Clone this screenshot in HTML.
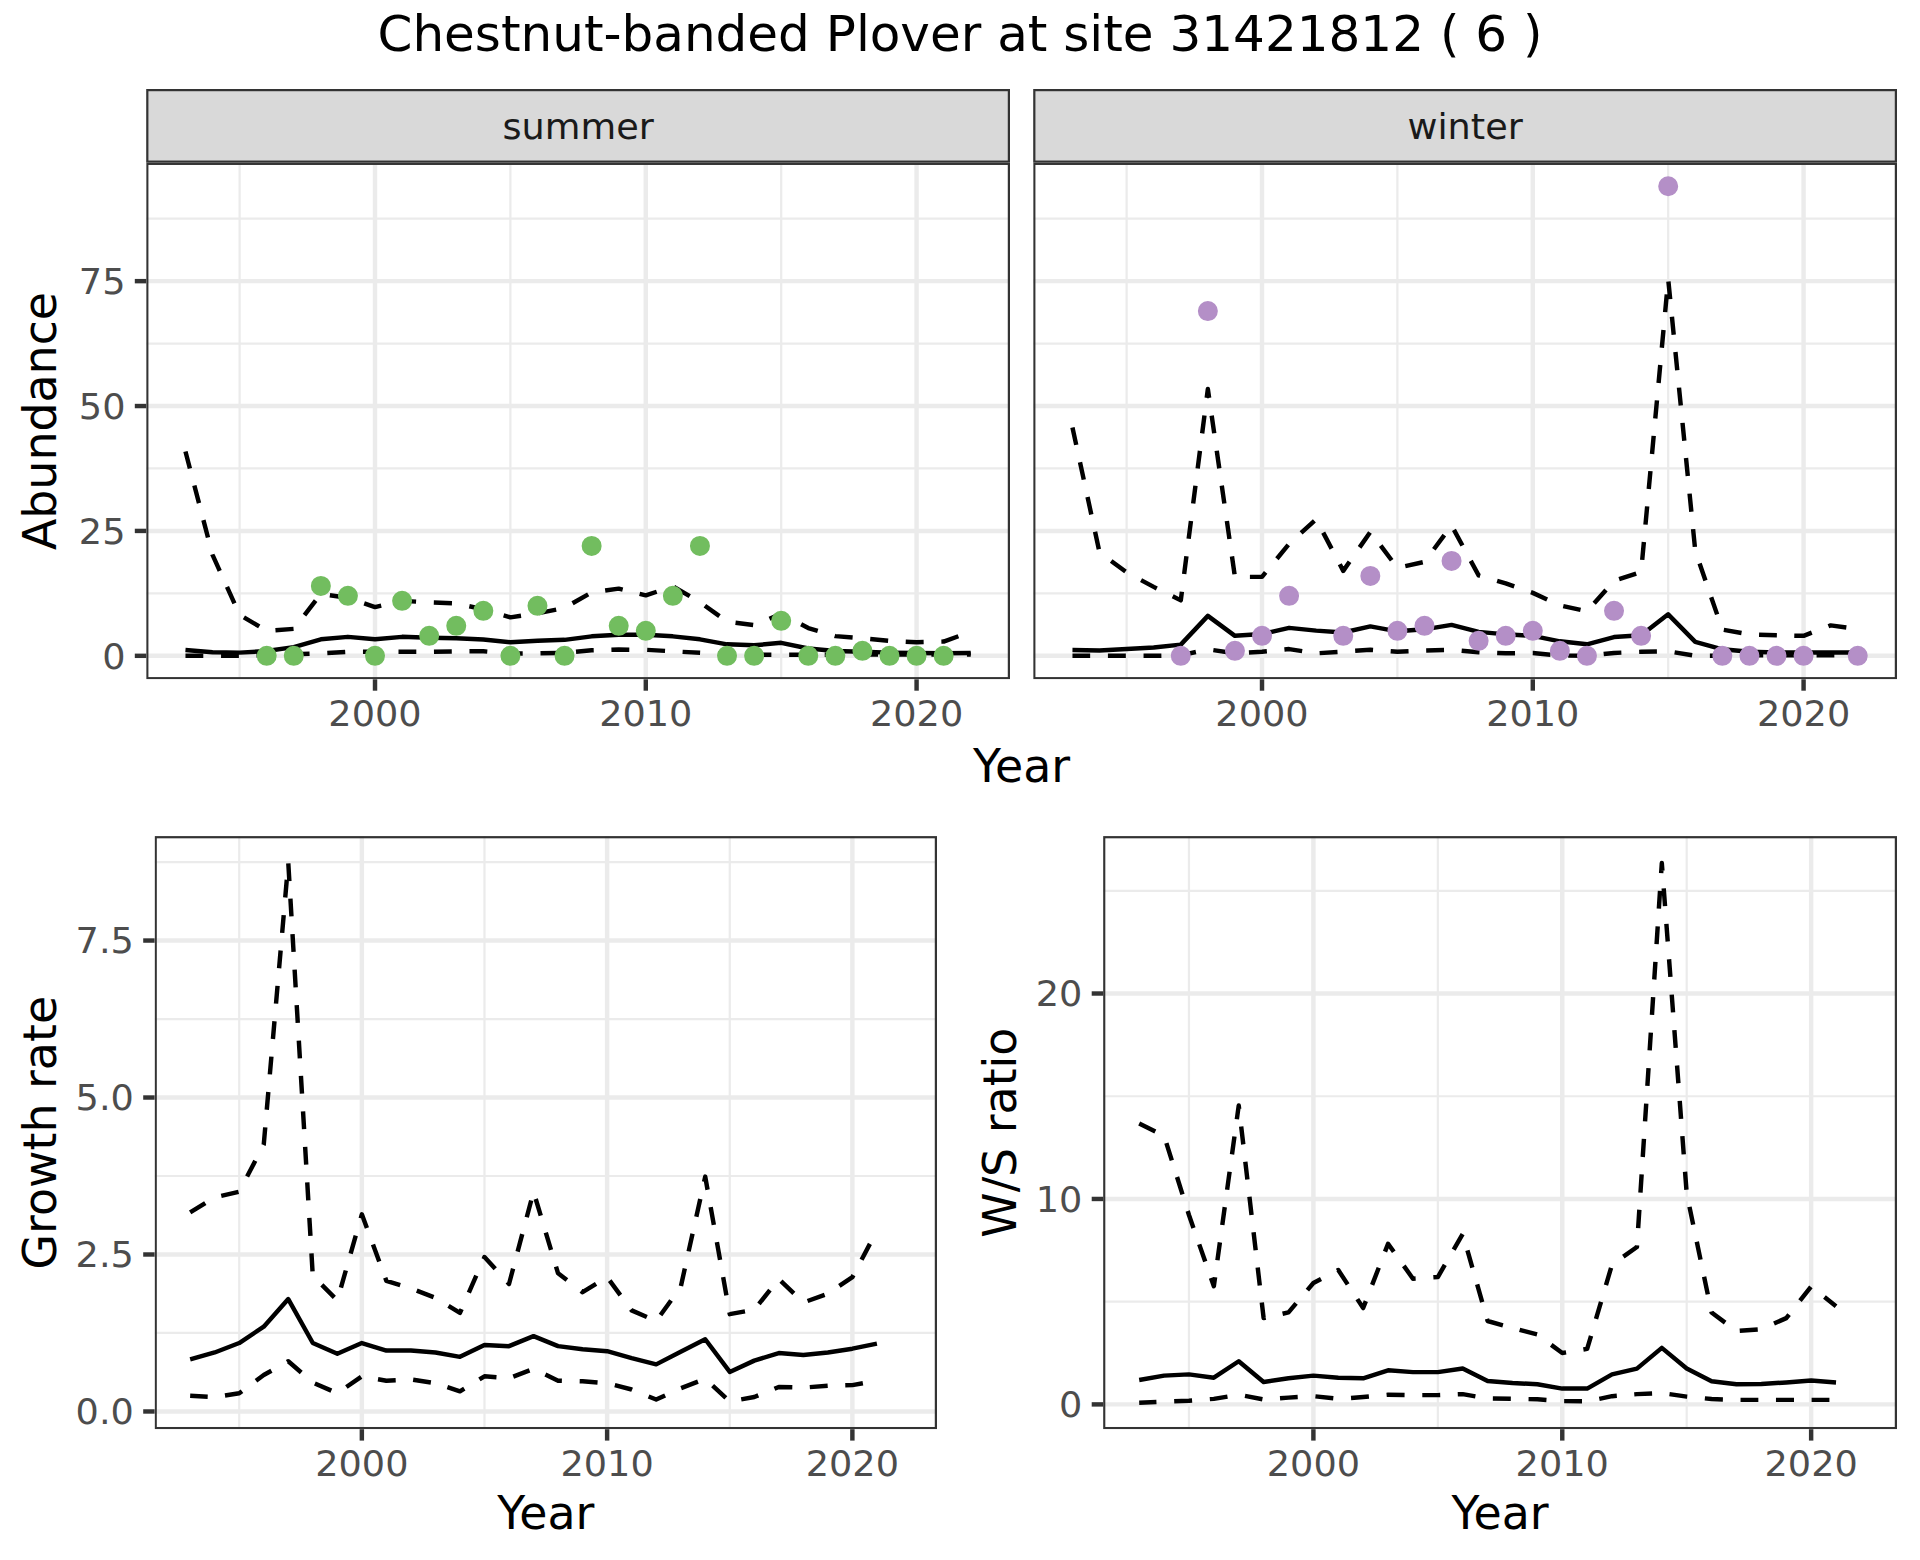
<!DOCTYPE html>
<html><head><meta charset="utf-8"><title>Chestnut-banded Plover at site 31421812</title>
<style>
html,body{margin:0;padding:0;background:#fff;}
svg{display:block;}
text{font-family:'DejaVu Sans','Liberation Sans',sans-serif;}
.tk{font-size:36.67px;fill:#4D4D4D;}
.ttl{font-size:45.83px;fill:#000;}
</style></head><body>
<svg width="1920" height="1560" viewBox="0 0 1920 1560">
<rect width="1920" height="1560" fill="#fff"/>
<text x="960" y="51.2" text-anchor="middle" style="font-size:50px" fill="#000">Chestnut-banded Plover at site 31421812 ( 6 )</text>
<clipPath id="c1"><rect x="146.20" y="162.75" width="863.80" height="516.55"/></clipPath>
<g clip-path="url(#c1)">
<rect x="146.20" y="162.75" width="863.80" height="516.55" fill="#fff"/>
<line x1="146.20" x2="1010.00" y1="593.37" y2="593.37" stroke="#EBEBEB" stroke-width="2.2225"/>
<line x1="146.20" x2="1010.00" y1="468.48" y2="468.48" stroke="#EBEBEB" stroke-width="2.2225"/>
<line x1="146.20" x2="1010.00" y1="343.59" y2="343.59" stroke="#EBEBEB" stroke-width="2.2225"/>
<line x1="146.20" x2="1010.00" y1="218.70" y2="218.70" stroke="#EBEBEB" stroke-width="2.2225"/>
<line x1="239.62" x2="239.62" y1="162.75" y2="679.30" stroke="#EBEBEB" stroke-width="2.2225"/>
<line x1="510.40" x2="510.40" y1="162.75" y2="679.30" stroke="#EBEBEB" stroke-width="2.2225"/>
<line x1="781.19" x2="781.19" y1="162.75" y2="679.30" stroke="#EBEBEB" stroke-width="2.2225"/>
<line x1="146.20" x2="1010.00" y1="655.82" y2="655.82" stroke="#EBEBEB" stroke-width="4.445"/>
<line x1="146.20" x2="1010.00" y1="530.93" y2="530.93" stroke="#EBEBEB" stroke-width="4.445"/>
<line x1="146.20" x2="1010.00" y1="406.04" y2="406.04" stroke="#EBEBEB" stroke-width="4.445"/>
<line x1="146.20" x2="1010.00" y1="281.15" y2="281.15" stroke="#EBEBEB" stroke-width="4.445"/>
<line x1="375.01" x2="375.01" y1="162.75" y2="679.30" stroke="#EBEBEB" stroke-width="4.445"/>
<line x1="645.80" x2="645.80" y1="162.75" y2="679.30" stroke="#EBEBEB" stroke-width="4.445"/>
<line x1="916.58" x2="916.58" y1="162.75" y2="679.30" stroke="#EBEBEB" stroke-width="4.445"/>
<polyline points="185.46,650.08 212.54,652.22 239.62,652.62 266.70,651.07 293.78,647.13 320.86,639.33 347.93,636.84 375.01,639.33 402.09,636.84 429.17,637.84 456.25,638.34 483.33,639.53 510.40,642.33 537.48,640.83 564.56,639.83 591.64,636.34 618.72,634.84 645.80,634.84 672.87,636.34 699.95,639.33 727.03,644.33 754.11,645.33 781.19,642.83 808.27,648.53 835.34,651.02 862.42,651.82 889.50,652.62 916.58,653.02 943.66,653.32 970.74,653.02" fill="none" stroke="#000" stroke-width="4.445" stroke-linejoin="round" stroke-linecap="butt"/>
<path d="M185.46,655.82 L203.30,655.82 M221.04,655.82 L238.89,655.82 M256.56,655.51 L266.70,655.32 L274.23,655.04 M291.89,654.39 L293.78,654.32 L309.56,653.74 M327.30,652.97 L345.22,651.97 M362.96,651.82 L375.01,651.82 L380.73,651.82 M398.49,651.82 L402.09,651.82 L416.30,651.82 M433.95,651.74 L451.79,651.41 M469.45,651.32 L483.33,651.32 L487.29,651.65 M504.98,653.12 L510.40,653.57 L522.71,653.46 M540.49,653.27 L558.27,652.94 M576.00,651.77 L591.64,650.33 L593.71,650.27 M611.41,649.78 L618.72,649.58 L629.30,649.67 M647.18,649.90 L665.05,650.89 M682.59,651.86 L699.95,652.82 L700.12,652.83 M717.91,653.82 L727.03,654.32 L735.72,654.48 M753.54,654.81 L754.11,654.82 L771.37,654.82 M789.15,654.82 L806.93,654.82 M824.71,654.82 L835.34,654.82 L842.49,654.76 M860.27,654.59 L862.42,654.57 L878.05,654.57 M895.83,654.57 L913.61,654.57 M931.39,654.57 L943.66,654.57 L949.17,654.57 M966.95,654.57 L970.74,654.57" fill="none" stroke="#000" stroke-width="4.445" stroke-linejoin="round" stroke-linecap="butt"/>
<path d="M185.46,451.50 L189.90,468.46 M194.36,485.49 L198.99,503.14 M203.42,520.08 L207.98,537.47 M212.40,554.38 L212.54,554.91 L219.74,570.84 M227.00,586.93 L234.45,603.41 M243.90,617.38 L259.25,626.45 M275.45,630.20 L293.55,628.86 M304.47,615.04 L315.64,600.61 M329.86,595.20 L347.40,597.79 M364.21,603.43 L375.01,607.11 L381.21,605.68 M398.48,601.70 L402.09,600.87 L416.08,601.64 M433.81,602.54 L451.98,603.21 M469.32,606.26 L483.33,609.36 L486.60,610.33 M503.64,615.36 L510.40,617.35 L521.02,615.79 M538.68,613.11 L556.18,609.56 M572.55,603.29 L588.20,594.34 M605.16,590.51 L618.72,588.63 L622.69,589.62 M639.61,593.83 L645.80,595.37 L656.70,591.75 M673.95,587.01 L689.76,596.20 M704.92,605.69 L719.46,616.15 M735.52,622.70 L753.16,624.97 M769.48,618.72 L781.19,613.86 L785.55,616.15 M801.13,624.34 L808.27,628.09 L817.73,630.89 M834.69,635.89 L835.34,636.09 L852.63,637.52 M870.21,639.05 L888.13,640.71 M905.72,641.67 L916.58,642.23 L923.66,642.06 M941.37,641.64 L943.66,641.58 L958.39,636.28" fill="none" stroke="#000" stroke-width="4.445" stroke-linejoin="round" stroke-linecap="butt"/>
<circle cx="266.70" cy="655.82" r="9.1" fill="#72BD5F" stroke="#72BD5F" stroke-width="1.8"/>
<circle cx="293.78" cy="655.82" r="9.1" fill="#72BD5F" stroke="#72BD5F" stroke-width="1.8"/>
<circle cx="320.86" cy="585.88" r="9.1" fill="#72BD5F" stroke="#72BD5F" stroke-width="1.8"/>
<circle cx="347.93" cy="595.87" r="9.1" fill="#72BD5F" stroke="#72BD5F" stroke-width="1.8"/>
<circle cx="375.01" cy="655.82" r="9.1" fill="#72BD5F" stroke="#72BD5F" stroke-width="1.8"/>
<circle cx="402.09" cy="600.87" r="9.1" fill="#72BD5F" stroke="#72BD5F" stroke-width="1.8"/>
<circle cx="429.17" cy="635.84" r="9.1" fill="#72BD5F" stroke="#72BD5F" stroke-width="1.8"/>
<circle cx="456.25" cy="625.85" r="9.1" fill="#72BD5F" stroke="#72BD5F" stroke-width="1.8"/>
<circle cx="483.33" cy="610.86" r="9.1" fill="#72BD5F" stroke="#72BD5F" stroke-width="1.8"/>
<circle cx="510.40" cy="655.82" r="9.1" fill="#72BD5F" stroke="#72BD5F" stroke-width="1.8"/>
<circle cx="537.48" cy="605.86" r="9.1" fill="#72BD5F" stroke="#72BD5F" stroke-width="1.8"/>
<circle cx="564.56" cy="655.82" r="9.1" fill="#72BD5F" stroke="#72BD5F" stroke-width="1.8"/>
<circle cx="591.64" cy="545.92" r="9.1" fill="#72BD5F" stroke="#72BD5F" stroke-width="1.8"/>
<circle cx="618.72" cy="625.85" r="9.1" fill="#72BD5F" stroke="#72BD5F" stroke-width="1.8"/>
<circle cx="645.80" cy="630.84" r="9.1" fill="#72BD5F" stroke="#72BD5F" stroke-width="1.8"/>
<circle cx="672.87" cy="595.87" r="9.1" fill="#72BD5F" stroke="#72BD5F" stroke-width="1.8"/>
<circle cx="699.95" cy="545.92" r="9.1" fill="#72BD5F" stroke="#72BD5F" stroke-width="1.8"/>
<circle cx="727.03" cy="655.82" r="9.1" fill="#72BD5F" stroke="#72BD5F" stroke-width="1.8"/>
<circle cx="754.11" cy="655.82" r="9.1" fill="#72BD5F" stroke="#72BD5F" stroke-width="1.8"/>
<circle cx="781.19" cy="620.85" r="9.1" fill="#72BD5F" stroke="#72BD5F" stroke-width="1.8"/>
<circle cx="808.27" cy="655.82" r="9.1" fill="#72BD5F" stroke="#72BD5F" stroke-width="1.8"/>
<circle cx="835.34" cy="655.82" r="9.1" fill="#72BD5F" stroke="#72BD5F" stroke-width="1.8"/>
<circle cx="862.42" cy="650.82" r="9.1" fill="#72BD5F" stroke="#72BD5F" stroke-width="1.8"/>
<circle cx="889.50" cy="655.82" r="9.1" fill="#72BD5F" stroke="#72BD5F" stroke-width="1.8"/>
<circle cx="916.58" cy="655.82" r="9.1" fill="#72BD5F" stroke="#72BD5F" stroke-width="1.8"/>
<circle cx="943.66" cy="655.82" r="9.1" fill="#72BD5F" stroke="#72BD5F" stroke-width="1.8"/>
<rect x="147.31" y="163.86" width="861.58" height="514.33" fill="none" stroke="#333333" stroke-width="2.22"/>
</g>
<line x1="375.01" x2="375.01" y1="679.30" y2="690.70" stroke="#333333" stroke-width="4.445"/>
<text transform="translate(375.01 725.90) scale(1 0.97)" text-anchor="middle" class="tk">2000</text>
<line x1="645.80" x2="645.80" y1="679.30" y2="690.70" stroke="#333333" stroke-width="4.445"/>
<text transform="translate(645.80 725.90) scale(1 0.97)" text-anchor="middle" class="tk">2010</text>
<line x1="916.58" x2="916.58" y1="679.30" y2="690.70" stroke="#333333" stroke-width="4.445"/>
<text transform="translate(916.58 725.90) scale(1 0.97)" text-anchor="middle" class="tk">2020</text>
<line x1="134.80" x2="146.20" y1="655.82" y2="655.82" stroke="#333333" stroke-width="4.445"/>
<text transform="translate(125.50 668.62) scale(1 0.97)" text-anchor="end" class="tk">0</text>
<line x1="134.80" x2="146.20" y1="530.93" y2="530.93" stroke="#333333" stroke-width="4.445"/>
<text transform="translate(125.50 543.73) scale(1 0.97)" text-anchor="end" class="tk">25</text>
<line x1="134.80" x2="146.20" y1="406.04" y2="406.04" stroke="#333333" stroke-width="4.445"/>
<text transform="translate(125.50 418.84) scale(1 0.97)" text-anchor="end" class="tk">50</text>
<line x1="134.80" x2="146.20" y1="281.15" y2="281.15" stroke="#333333" stroke-width="4.445"/>
<text transform="translate(125.50 293.95) scale(1 0.97)" text-anchor="end" class="tk">75</text>
<clipPath id="c2"><rect x="1033.20" y="162.75" width="863.80" height="516.55"/></clipPath>
<g clip-path="url(#c2)">
<rect x="1033.20" y="162.75" width="863.80" height="516.55" fill="#fff"/>
<line x1="1033.20" x2="1897.00" y1="593.37" y2="593.37" stroke="#EBEBEB" stroke-width="2.2225"/>
<line x1="1033.20" x2="1897.00" y1="468.48" y2="468.48" stroke="#EBEBEB" stroke-width="2.2225"/>
<line x1="1033.20" x2="1897.00" y1="343.59" y2="343.59" stroke="#EBEBEB" stroke-width="2.2225"/>
<line x1="1033.20" x2="1897.00" y1="218.70" y2="218.70" stroke="#EBEBEB" stroke-width="2.2225"/>
<line x1="1126.62" x2="1126.62" y1="162.75" y2="679.30" stroke="#EBEBEB" stroke-width="2.2225"/>
<line x1="1397.40" x2="1397.40" y1="162.75" y2="679.30" stroke="#EBEBEB" stroke-width="2.2225"/>
<line x1="1668.19" x2="1668.19" y1="162.75" y2="679.30" stroke="#EBEBEB" stroke-width="2.2225"/>
<line x1="1033.20" x2="1897.00" y1="655.82" y2="655.82" stroke="#EBEBEB" stroke-width="4.445"/>
<line x1="1033.20" x2="1897.00" y1="530.93" y2="530.93" stroke="#EBEBEB" stroke-width="4.445"/>
<line x1="1033.20" x2="1897.00" y1="406.04" y2="406.04" stroke="#EBEBEB" stroke-width="4.445"/>
<line x1="1033.20" x2="1897.00" y1="281.15" y2="281.15" stroke="#EBEBEB" stroke-width="4.445"/>
<line x1="1262.01" x2="1262.01" y1="162.75" y2="679.30" stroke="#EBEBEB" stroke-width="4.445"/>
<line x1="1532.80" x2="1532.80" y1="162.75" y2="679.30" stroke="#EBEBEB" stroke-width="4.445"/>
<line x1="1803.58" x2="1803.58" y1="162.75" y2="679.30" stroke="#EBEBEB" stroke-width="4.445"/>
<polyline points="1072.46,650.08 1099.54,650.43 1126.62,649.03 1153.70,647.53 1180.78,644.63 1207.86,615.86 1234.93,635.84 1262.01,634.04 1289.09,627.84 1316.17,630.64 1343.25,632.54 1370.33,626.35 1397.40,631.34 1424.48,629.34 1451.56,624.85 1478.64,631.84 1505.72,634.34 1532.80,635.84 1559.87,641.33 1586.95,644.33 1614.03,637.09 1641.11,635.34 1668.19,614.36 1695.27,641.83 1722.34,649.33 1749.42,651.82 1776.50,652.57 1803.58,652.57 1830.66,652.57 1857.74,652.57" fill="none" stroke="#000" stroke-width="4.445" stroke-linejoin="round" stroke-linecap="butt"/>
<path d="M1072.46,655.82 L1090.17,655.82 M1107.92,655.82 L1125.83,655.82 M1143.54,655.82 L1153.70,655.82 L1161.39,655.68 M1178.82,655.36 L1180.78,655.32 L1195.91,651.97 M1213.34,650.14 L1231.06,652.75 M1248.92,652.55 L1262.01,651.82 L1266.87,651.33 M1284.40,649.55 L1289.09,649.08 L1302.17,651.13 M1319.61,653.10 L1337.53,651.94 M1355.16,650.80 L1370.33,649.83 L1373.05,650.03 M1390.67,651.33 L1397.40,651.82 L1408.55,651.29 M1426.17,650.48 L1444.03,650.02 M1461.66,650.76 L1478.64,652.32 L1479.50,652.36 M1497.16,653.01 L1505.72,653.32 L1515.04,653.24 M1532.74,653.07 L1532.80,653.07 L1550.45,654.67 M1568.19,655.61 L1585.97,655.81 M1603.66,654.03 L1614.03,652.92 L1621.37,652.63 M1639.14,651.90 L1641.11,651.82 L1656.91,651.53 M1674.60,652.39 L1692.14,655.30 M1709.88,655.82 L1722.34,655.82 L1727.66,655.72 M1745.44,655.39 L1749.42,655.32 L1763.22,655.32 M1781.00,655.32 L1798.78,655.32 M1816.56,655.32 L1830.66,655.32 L1834.34,655.32 M1852.12,655.32 L1857.74,655.32" fill="none" stroke="#000" stroke-width="4.445" stroke-linejoin="round" stroke-linecap="butt"/>
<path d="M1072.46,427.52 L1076.23,444.90 M1080.00,462.28 L1083.77,479.65 M1087.54,497.03 L1091.30,514.41 M1095.07,531.79 L1098.84,549.17 M1111.18,561.00 L1125.49,571.56 M1141.06,580.12 L1153.70,586.88 L1156.79,588.42 M1172.70,596.35 L1180.78,600.37 L1181.89,591.68 M1184.15,574.04 L1186.43,556.27 M1188.66,538.84 L1190.95,520.94 M1193.19,503.51 L1195.46,485.76 M1197.67,468.56 L1199.93,450.89 M1202.17,433.39 L1204.46,415.54 M1206.73,397.85 L1207.86,389.05 L1209.13,397.91 M1211.68,415.56 L1214.23,433.29 M1216.75,450.78 L1219.29,468.40 M1221.78,485.66 L1224.35,503.49 M1226.88,521.04 L1229.47,538.97 M1231.98,556.39 L1234.55,574.21 M1249.91,576.89 L1262.01,576.89 L1265.65,572.45 M1276.90,558.76 L1288.25,544.94 M1301.12,532.93 L1314.38,520.82 M1323.20,532.62 L1331.58,548.61 M1339.79,564.30 L1343.25,570.89 L1349.54,561.84 M1359.59,547.38 L1369.98,532.42 M1380.70,545.71 L1391.67,560.28 M1405.28,566.15 L1422.76,562.28 M1433.85,549.29 L1444.34,535.16 M1453.96,529.86 L1462.41,545.44 M1470.78,560.90 L1478.64,575.39 L1480.15,575.84 M1497.11,580.84 L1505.72,583.38 L1514.24,586.37 M1530.91,592.21 L1532.80,592.88 L1547.13,599.49 M1563.26,606.11 L1580.54,609.94 M1594.18,603.22 L1606.00,589.92 M1619.12,579.19 L1636.18,573.53 M1642.22,559.86 L1643.88,541.99 M1645.48,524.67 L1647.17,506.35 M1648.77,489.03 L1650.43,471.09 M1652.02,453.95 L1653.69,435.86 M1655.29,418.55 L1656.97,400.38 M1658.58,383.01 L1660.24,365.05 M1661.84,347.75 L1663.49,329.94 M1665.14,312.14 L1666.78,294.34 M1668.43,281.55 L1670.18,299.13 M1671.93,316.71 L1673.72,334.67 M1675.45,352.00 L1677.27,370.30 M1678.99,387.61 L1680.78,405.56 M1682.51,422.88 L1684.29,440.70 M1686.01,457.99 L1687.80,475.96 M1689.56,493.60 L1691.37,511.77 M1693.09,529.10 L1694.87,546.90 M1699.60,563.52 L1705.45,580.52 M1711.18,597.16 L1717.12,614.40 M1723.81,629.85 L1741.52,632.95 M1759.04,634.69 L1776.50,635.34 L1776.87,635.35 M1794.28,635.67 L1803.58,635.84 L1811.75,632.67 M1828.43,626.21 L1830.66,625.35 L1846.33,627.52" fill="none" stroke="#000" stroke-width="4.445" stroke-linejoin="round" stroke-linecap="butt"/>
<circle cx="1180.78" cy="655.82" r="9.1" fill="#B48FC7" stroke="#B48FC7" stroke-width="1.8"/>
<circle cx="1207.86" cy="311.12" r="9.1" fill="#B48FC7" stroke="#B48FC7" stroke-width="1.8"/>
<circle cx="1234.93" cy="650.82" r="9.1" fill="#B48FC7" stroke="#B48FC7" stroke-width="1.8"/>
<circle cx="1262.01" cy="635.84" r="9.1" fill="#B48FC7" stroke="#B48FC7" stroke-width="1.8"/>
<circle cx="1289.09" cy="595.87" r="9.1" fill="#B48FC7" stroke="#B48FC7" stroke-width="1.8"/>
<circle cx="1343.25" cy="635.84" r="9.1" fill="#B48FC7" stroke="#B48FC7" stroke-width="1.8"/>
<circle cx="1370.33" cy="575.89" r="9.1" fill="#B48FC7" stroke="#B48FC7" stroke-width="1.8"/>
<circle cx="1397.40" cy="630.84" r="9.1" fill="#B48FC7" stroke="#B48FC7" stroke-width="1.8"/>
<circle cx="1424.48" cy="625.85" r="9.1" fill="#B48FC7" stroke="#B48FC7" stroke-width="1.8"/>
<circle cx="1451.56" cy="560.90" r="9.1" fill="#B48FC7" stroke="#B48FC7" stroke-width="1.8"/>
<circle cx="1478.64" cy="640.83" r="9.1" fill="#B48FC7" stroke="#B48FC7" stroke-width="1.8"/>
<circle cx="1505.72" cy="635.84" r="9.1" fill="#B48FC7" stroke="#B48FC7" stroke-width="1.8"/>
<circle cx="1532.80" cy="630.84" r="9.1" fill="#B48FC7" stroke="#B48FC7" stroke-width="1.8"/>
<circle cx="1559.87" cy="650.82" r="9.1" fill="#B48FC7" stroke="#B48FC7" stroke-width="1.8"/>
<circle cx="1586.95" cy="655.82" r="9.1" fill="#B48FC7" stroke="#B48FC7" stroke-width="1.8"/>
<circle cx="1614.03" cy="610.86" r="9.1" fill="#B48FC7" stroke="#B48FC7" stroke-width="1.8"/>
<circle cx="1641.11" cy="635.84" r="9.1" fill="#B48FC7" stroke="#B48FC7" stroke-width="1.8"/>
<circle cx="1668.19" cy="186.23" r="9.1" fill="#B48FC7" stroke="#B48FC7" stroke-width="1.8"/>
<circle cx="1722.34" cy="655.82" r="9.1" fill="#B48FC7" stroke="#B48FC7" stroke-width="1.8"/>
<circle cx="1749.42" cy="655.82" r="9.1" fill="#B48FC7" stroke="#B48FC7" stroke-width="1.8"/>
<circle cx="1776.50" cy="655.82" r="9.1" fill="#B48FC7" stroke="#B48FC7" stroke-width="1.8"/>
<circle cx="1803.58" cy="655.82" r="9.1" fill="#B48FC7" stroke="#B48FC7" stroke-width="1.8"/>
<circle cx="1857.74" cy="655.82" r="9.1" fill="#B48FC7" stroke="#B48FC7" stroke-width="1.8"/>
<rect x="1034.31" y="163.86" width="861.58" height="514.33" fill="none" stroke="#333333" stroke-width="2.22"/>
</g>
<line x1="1262.01" x2="1262.01" y1="679.30" y2="690.70" stroke="#333333" stroke-width="4.445"/>
<text transform="translate(1262.01 725.90) scale(1 0.97)" text-anchor="middle" class="tk">2000</text>
<line x1="1532.80" x2="1532.80" y1="679.30" y2="690.70" stroke="#333333" stroke-width="4.445"/>
<text transform="translate(1532.80 725.90) scale(1 0.97)" text-anchor="middle" class="tk">2010</text>
<line x1="1803.58" x2="1803.58" y1="679.30" y2="690.70" stroke="#333333" stroke-width="4.445"/>
<text transform="translate(1803.58 725.90) scale(1 0.97)" text-anchor="middle" class="tk">2020</text>
<clipPath id="c3"><rect x="154.60" y="836.10" width="782.40" height="593.10"/></clipPath>
<g clip-path="url(#c3)">
<rect x="154.60" y="836.10" width="782.40" height="593.10" fill="#fff"/>
<line x1="154.60" x2="937.00" y1="1332.98" y2="1332.98" stroke="#EBEBEB" stroke-width="2.2225"/>
<line x1="154.60" x2="937.00" y1="1176.01" y2="1176.01" stroke="#EBEBEB" stroke-width="2.2225"/>
<line x1="154.60" x2="937.00" y1="1019.03" y2="1019.03" stroke="#EBEBEB" stroke-width="2.2225"/>
<line x1="154.60" x2="937.00" y1="862.05" y2="862.05" stroke="#EBEBEB" stroke-width="2.2225"/>
<line x1="239.22" x2="239.22" y1="836.10" y2="1429.20" stroke="#EBEBEB" stroke-width="2.2225"/>
<line x1="484.48" x2="484.48" y1="836.10" y2="1429.20" stroke="#EBEBEB" stroke-width="2.2225"/>
<line x1="729.75" x2="729.75" y1="836.10" y2="1429.20" stroke="#EBEBEB" stroke-width="2.2225"/>
<line x1="154.60" x2="937.00" y1="1411.47" y2="1411.47" stroke="#EBEBEB" stroke-width="4.445"/>
<line x1="154.60" x2="937.00" y1="1254.49" y2="1254.49" stroke="#EBEBEB" stroke-width="4.445"/>
<line x1="154.60" x2="937.00" y1="1097.52" y2="1097.52" stroke="#EBEBEB" stroke-width="4.445"/>
<line x1="154.60" x2="937.00" y1="940.54" y2="940.54" stroke="#EBEBEB" stroke-width="4.445"/>
<line x1="361.85" x2="361.85" y1="836.10" y2="1429.20" stroke="#EBEBEB" stroke-width="4.445"/>
<line x1="607.12" x2="607.12" y1="836.10" y2="1429.20" stroke="#EBEBEB" stroke-width="4.445"/>
<line x1="852.38" x2="852.38" y1="836.10" y2="1429.20" stroke="#EBEBEB" stroke-width="4.445"/>
<polyline points="190.16,1359.36 214.69,1352.45 239.22,1343.03 263.74,1326.70 288.27,1299.08 312.80,1343.03 337.32,1353.70 361.85,1343.03 386.38,1350.56 410.90,1350.56 435.43,1352.45 459.96,1356.84 484.48,1344.91 509.01,1346.17 533.54,1336.12 558.06,1346.17 582.59,1349.31 607.12,1351.19 631.64,1358.10 656.17,1364.38 680.70,1351.82 705.22,1339.26 729.75,1371.91 754.28,1360.61 778.80,1353.08 803.33,1354.96 827.86,1352.45 852.38,1348.68 876.91,1343.66" fill="none" stroke="#000" stroke-width="4.445" stroke-linejoin="round" stroke-linecap="butt"/>
<path d="M190.16,1395.77 L207.70,1396.67 M224.98,1395.45 L239.22,1393.26 L241.99,1391.20 M255.99,1380.81 L263.74,1375.05 L271.42,1370.73 M287.01,1361.95 L288.27,1361.24 L301.24,1372.53 M314.89,1383.50 L331.34,1390.66 M346.37,1387.01 L361.08,1376.84 M378.01,1379.20 L386.38,1380.70 L395.70,1380.23 M413.15,1379.79 L430.89,1382.52 M447.41,1387.20 L459.96,1391.38 L464.30,1388.71 M479.40,1379.43 L484.48,1376.31 L496.47,1377.23 M513.28,1376.55 L529.54,1370.31 M545.38,1374.53 L558.06,1380.70 L561.87,1380.80 M579.68,1381.26 L582.59,1381.33 L597.56,1382.48 M614.84,1385.19 L631.64,1389.49 L632.12,1389.69 M648.60,1396.44 L656.17,1399.54 L665.12,1395.42 M681.14,1388.07 L697.94,1381.62 M712.62,1385.63 L725.81,1397.80 M741.22,1399.37 L754.28,1397.03 L758.30,1395.38 M774.47,1388.76 L778.80,1386.98 L792.32,1387.33 M809.80,1387.11 L827.69,1385.74 M845.27,1385.28 L852.38,1385.10 L862.88,1383.22" fill="none" stroke="#000" stroke-width="4.445" stroke-linejoin="round" stroke-linecap="butt"/>
<path d="M190.16,1212.43 L205.29,1203.13 M221.25,1195.85 L238.55,1191.86 M247.10,1176.56 L255.30,1160.82 M263.51,1145.07 L263.74,1144.61 L265.24,1127.43 M266.78,1109.74 L268.32,1092.05 M269.85,1074.36 L271.39,1056.67 M272.93,1038.98 L274.47,1021.29 M276.01,1003.60 L277.55,985.91 M279.09,968.22 L280.63,950.53 M282.17,932.84 L283.71,915.15 M285.24,897.46 L286.78,879.78 M288.31,863.28 L289.36,881.01 M290.41,898.73 L291.46,916.46 M292.51,934.18 L293.57,951.91 M294.62,969.63 L295.67,987.36 M296.72,1005.08 L297.78,1022.81 M298.83,1040.53 L299.88,1058.26 M300.93,1075.99 L301.98,1093.71 M303.04,1111.44 L304.09,1129.16 M305.14,1146.89 L306.19,1164.61 M307.25,1182.34 L308.31,1200.33 M309.35,1217.86 L310.43,1235.94 M311.47,1253.45 L312.53,1271.31 M321.85,1284.88 L334.33,1297.35 M340.94,1287.65 L345.83,1270.49 M350.64,1253.64 L355.76,1235.66 M360.73,1218.25 L361.85,1214.31 L366.90,1228.00 M372.99,1244.53 L379.23,1261.48 M385.24,1277.79 L386.38,1280.87 L400.21,1285.12 M416.76,1290.65 L433.58,1297.11 M448.49,1305.84 L459.96,1312.89 L461.63,1309.08 M468.84,1292.65 L476.28,1275.70 M483.59,1259.03 L484.48,1257.01 L495.22,1268.83 M507.28,1282.11 L509.01,1284.01 L513.09,1268.66 M517.62,1251.59 L522.25,1234.18 M526.74,1217.29 L531.20,1200.50 M535.73,1199.01 L540.75,1215.70 M545.81,1232.57 L551.01,1249.85 M556.02,1266.54 L558.06,1273.33 L566.89,1280.11 M580.92,1290.89 L582.59,1292.17 L596.07,1283.89 M609.71,1280.62 L620.36,1295.07 M630.90,1309.36 L631.64,1310.38 L646.87,1317.01 M660.53,1315.03 L671.03,1300.51 M680.95,1286.01 L684.82,1268.56 M688.63,1251.39 L692.54,1233.80 M696.34,1216.67 L700.27,1198.95 M704.11,1181.67 L705.22,1176.63 L707.56,1189.74 M710.65,1207.08 L713.84,1224.96 M716.90,1242.10 L720.07,1259.86 M723.15,1277.16 L726.40,1295.39 M729.45,1312.44 L729.75,1314.15 L745.00,1311.41 M758.96,1303.88 L769.93,1290.11 M780.98,1281.07 L793.84,1293.42 M807.57,1301.01 L824.64,1294.89 M839.35,1285.94 L852.38,1277.10 L853.44,1275.11 M861.57,1259.69 L869.92,1243.87" fill="none" stroke="#000" stroke-width="4.445" stroke-linejoin="round" stroke-linecap="butt"/>
<rect x="155.71" y="837.21" width="780.18" height="590.88" fill="none" stroke="#333333" stroke-width="2.22"/>
</g>
<line x1="361.85" x2="361.85" y1="1429.20" y2="1440.60" stroke="#333333" stroke-width="4.445"/>
<text transform="translate(361.85 1475.80) scale(1 0.97)" text-anchor="middle" class="tk">2000</text>
<line x1="607.12" x2="607.12" y1="1429.20" y2="1440.60" stroke="#333333" stroke-width="4.445"/>
<text transform="translate(607.12 1475.80) scale(1 0.97)" text-anchor="middle" class="tk">2010</text>
<line x1="852.38" x2="852.38" y1="1429.20" y2="1440.60" stroke="#333333" stroke-width="4.445"/>
<text transform="translate(852.38 1475.80) scale(1 0.97)" text-anchor="middle" class="tk">2020</text>
<line x1="143.20" x2="154.60" y1="1411.47" y2="1411.47" stroke="#333333" stroke-width="4.445"/>
<text transform="translate(133.90 1424.27) scale(1 0.97)" text-anchor="end" class="tk">0.0</text>
<line x1="143.20" x2="154.60" y1="1254.49" y2="1254.49" stroke="#333333" stroke-width="4.445"/>
<text transform="translate(133.90 1267.29) scale(1 0.97)" text-anchor="end" class="tk">2.5</text>
<line x1="143.20" x2="154.60" y1="1097.52" y2="1097.52" stroke="#333333" stroke-width="4.445"/>
<text transform="translate(133.90 1110.32) scale(1 0.97)" text-anchor="end" class="tk">5.0</text>
<line x1="143.20" x2="154.60" y1="940.54" y2="940.54" stroke="#333333" stroke-width="4.445"/>
<text transform="translate(133.90 953.34) scale(1 0.97)" text-anchor="end" class="tk">7.5</text>
<clipPath id="c4"><rect x="1103.10" y="836.10" width="793.90" height="593.10"/></clipPath>
<g clip-path="url(#c4)">
<rect x="1103.10" y="836.10" width="793.90" height="593.10" fill="#fff"/>
<line x1="1103.10" x2="1897.00" y1="1301.68" y2="1301.68" stroke="#EBEBEB" stroke-width="2.2225"/>
<line x1="1103.10" x2="1897.00" y1="1096.24" y2="1096.24" stroke="#EBEBEB" stroke-width="2.2225"/>
<line x1="1103.10" x2="1897.00" y1="890.79" y2="890.79" stroke="#EBEBEB" stroke-width="2.2225"/>
<line x1="1188.96" x2="1188.96" y1="836.10" y2="1429.20" stroke="#EBEBEB" stroke-width="2.2225"/>
<line x1="1437.83" x2="1437.83" y1="836.10" y2="1429.20" stroke="#EBEBEB" stroke-width="2.2225"/>
<line x1="1686.70" x2="1686.70" y1="836.10" y2="1429.20" stroke="#EBEBEB" stroke-width="2.2225"/>
<line x1="1103.10" x2="1897.00" y1="1404.40" y2="1404.40" stroke="#EBEBEB" stroke-width="4.445"/>
<line x1="1103.10" x2="1897.00" y1="1198.96" y2="1198.96" stroke="#EBEBEB" stroke-width="4.445"/>
<line x1="1103.10" x2="1897.00" y1="993.51" y2="993.51" stroke="#EBEBEB" stroke-width="4.445"/>
<line x1="1313.40" x2="1313.40" y1="836.10" y2="1429.20" stroke="#EBEBEB" stroke-width="4.445"/>
<line x1="1562.27" x2="1562.27" y1="836.10" y2="1429.20" stroke="#EBEBEB" stroke-width="4.445"/>
<line x1="1811.14" x2="1811.14" y1="836.10" y2="1429.20" stroke="#EBEBEB" stroke-width="4.445"/>
<polyline points="1139.19,1379.95 1164.07,1375.64 1188.96,1374.40 1213.85,1377.69 1238.73,1361.26 1263.62,1382.00 1288.51,1378.31 1313.40,1375.64 1338.28,1377.69 1363.17,1378.31 1388.06,1370.29 1412.94,1372.14 1437.83,1372.14 1462.72,1368.45 1487.61,1380.98 1512.49,1383.03 1537.38,1384.26 1562.27,1388.58 1587.16,1388.58 1612.04,1374.40 1636.93,1368.65 1661.82,1347.90 1686.70,1368.45 1711.59,1381.18 1736.48,1384.26 1761.37,1384.06 1786.25,1382.42 1811.14,1380.57 1836.03,1382.42" fill="none" stroke="#000" stroke-width="4.445" stroke-linejoin="round" stroke-linecap="butt"/>
<path d="M1139.19,1402.75 L1156.45,1402.04 M1174.19,1401.31 L1188.96,1400.70 L1192.10,1400.47 M1209.83,1399.15 L1213.85,1398.85 L1227.48,1396.60 M1244.99,1395.93 L1262.41,1399.24 M1280.01,1398.25 L1288.51,1397.62 L1297.71,1397.09 M1315.43,1396.40 L1333.30,1398.32 M1351.02,1397.91 L1363.17,1397.00 L1368.90,1396.48 M1386.59,1394.88 L1388.06,1394.74 L1404.58,1395.02 M1422.29,1395.15 L1437.83,1395.15 L1440.21,1395.06 M1457.77,1394.33 L1462.72,1394.13 L1475.40,1396.32 M1492.85,1398.53 L1510.83,1398.82 M1528.55,1399.12 L1537.38,1399.26 L1546.47,1399.94 M1564.16,1401.13 L1582.00,1401.27 M1599.29,1398.81 L1612.04,1396.18 L1616.81,1395.79 M1634.26,1394.35 L1636.93,1394.13 L1652.09,1393.50 M1669.48,1394.17 L1686.70,1396.59 L1687.22,1396.64 M1704.85,1398.39 L1711.59,1399.06 L1722.90,1399.43 M1740.53,1399.88 L1758.35,1399.88 M1775.96,1399.88 L1786.25,1399.88 L1794.01,1399.88 M1811.62,1399.88 L1829.42,1399.88" fill="none" stroke="#000" stroke-width="4.445" stroke-linejoin="round" stroke-linecap="butt"/>
<path d="M1139.19,1123.56 L1155.30,1131.41 M1166.40,1143.08 L1171.81,1160.34 M1177.04,1177.00 L1182.48,1194.33 M1187.72,1211.04 L1188.96,1214.98 L1193.47,1227.90 M1199.22,1244.38 L1205.23,1261.58 M1210.97,1278.03 L1213.85,1286.27 L1215.09,1277.22 M1217.43,1260.21 L1219.89,1242.35 M1222.28,1225.01 L1224.75,1207.10 M1227.13,1189.76 L1229.61,1171.78 M1232.01,1154.37 L1234.46,1136.53 M1236.84,1119.23 L1238.73,1105.48 L1239.15,1109.04 M1241.18,1126.39 L1243.29,1144.37 M1245.31,1161.64 L1247.40,1179.54 M1249.43,1196.82 L1251.54,1214.89 M1253.57,1232.20 L1255.68,1250.27 M1257.71,1267.58 L1259.80,1285.48 M1261.80,1302.57 L1263.62,1318.11 L1265.66,1317.64 M1282.57,1313.73 L1288.51,1312.36 L1296.10,1303.39 M1307.36,1290.11 L1313.40,1282.98 L1321.01,1279.02 M1336.93,1270.74 L1338.28,1270.04 L1347.68,1284.38 M1357.33,1299.12 L1363.17,1308.05 L1365.85,1301.12 M1372.14,1284.86 L1378.75,1267.80 M1385.02,1251.58 L1388.06,1243.74 L1393.78,1251.78 M1403.81,1265.85 L1412.94,1278.67 L1415.64,1278.49 M1433.36,1277.32 L1437.83,1277.02 L1444.82,1264.91 M1453.69,1249.53 L1462.61,1234.07 M1467.44,1250.40 L1472.35,1267.59 M1477.16,1284.44 L1482.21,1302.10 M1487.01,1318.90 L1487.61,1320.99 L1502.90,1325.28 M1519.62,1329.86 L1537.06,1334.46 M1551.26,1344.86 L1562.27,1353.04 L1566.06,1352.41 M1583.38,1349.55 L1587.16,1348.93 L1591.04,1335.76 M1596.00,1318.92 L1601.04,1301.81 M1605.96,1285.13 L1611.07,1267.79 M1623.34,1256.57 L1636.93,1247.03 L1637.03,1245.47 M1638.15,1228.15 L1639.34,1209.76 M1640.46,1192.52 L1641.64,1174.37 M1642.76,1157.00 L1643.94,1138.83 M1645.07,1121.46 L1646.23,1103.57 M1647.38,1085.85 L1648.53,1068.12 M1649.67,1050.40 L1650.82,1032.68 M1651.97,1014.95 L1653.12,997.23 M1654.27,979.50 L1655.42,961.78 M1656.57,944.05 L1657.72,926.33 M1658.86,908.60 L1660.01,890.88 M1661.16,873.15 L1661.82,863.06 L1662.39,870.68 M1663.72,888.39 L1665.06,906.11 M1666.39,923.82 L1667.72,941.53 M1669.06,959.24 L1670.39,976.95 M1671.72,994.66 L1673.06,1012.38 M1674.39,1030.09 L1675.73,1047.80 M1677.06,1065.51 L1678.39,1083.22 M1679.73,1100.93 L1681.07,1118.84 M1682.38,1136.17 L1683.75,1154.34 M1685.06,1171.72 L1686.42,1189.78 M1689.48,1206.89 L1693.19,1224.63 M1696.79,1241.82 L1700.51,1259.60 M1704.10,1276.76 L1707.79,1294.42 M1711.37,1311.49 L1711.59,1312.57 L1725.15,1322.64 M1739.73,1330.81 L1757.74,1329.48 M1774.01,1323.57 L1786.25,1318.11 L1789.08,1314.52 M1800.00,1300.64 L1810.87,1286.82 M1824.46,1297.03 L1836.03,1306.20" fill="none" stroke="#000" stroke-width="4.445" stroke-linejoin="round" stroke-linecap="butt"/>
<rect x="1104.21" y="837.21" width="791.68" height="590.88" fill="none" stroke="#333333" stroke-width="2.22"/>
</g>
<line x1="1313.40" x2="1313.40" y1="1429.20" y2="1440.60" stroke="#333333" stroke-width="4.445"/>
<text transform="translate(1313.40 1475.80) scale(1 0.97)" text-anchor="middle" class="tk">2000</text>
<line x1="1562.27" x2="1562.27" y1="1429.20" y2="1440.60" stroke="#333333" stroke-width="4.445"/>
<text transform="translate(1562.27 1475.80) scale(1 0.97)" text-anchor="middle" class="tk">2010</text>
<line x1="1811.14" x2="1811.14" y1="1429.20" y2="1440.60" stroke="#333333" stroke-width="4.445"/>
<text transform="translate(1811.14 1475.80) scale(1 0.97)" text-anchor="middle" class="tk">2020</text>
<line x1="1091.70" x2="1103.10" y1="1404.40" y2="1404.40" stroke="#333333" stroke-width="4.445"/>
<text transform="translate(1082.40 1417.20) scale(1 0.97)" text-anchor="end" class="tk">0</text>
<line x1="1091.70" x2="1103.10" y1="1198.96" y2="1198.96" stroke="#333333" stroke-width="4.445"/>
<text transform="translate(1082.40 1211.76) scale(1 0.97)" text-anchor="end" class="tk">10</text>
<line x1="1091.70" x2="1103.10" y1="993.51" y2="993.51" stroke="#333333" stroke-width="4.445"/>
<text transform="translate(1082.40 1006.31) scale(1 0.97)" text-anchor="end" class="tk">20</text>
<rect x="147.31" y="90.11" width="861.58" height="71.53" fill="#D9D9D9" stroke="#333333" stroke-width="2.22"/>
<text transform="translate(578.10 138.9) scale(1 0.97)" text-anchor="middle" style="font-size:36.67px" fill="#1A1A1A">summer</text>
<rect x="1034.31" y="90.11" width="861.58" height="71.53" fill="#D9D9D9" stroke="#333333" stroke-width="2.22"/>
<text transform="translate(1465.10 138.9) scale(1 0.97)" text-anchor="middle" style="font-size:36.67px" fill="#1A1A1A">winter</text>
<text x="1021.60" y="781.75" text-anchor="middle" class="ttl">Year</text>
<text x="545.80" y="1528.7" text-anchor="middle" class="ttl">Year</text>
<text x="1500.05" y="1528.7" text-anchor="middle" class="ttl">Year</text>
<text transform="translate(56.3 421.02) rotate(-90)" text-anchor="middle" class="ttl">Abundance</text>
<text transform="translate(56.2 1132.65) rotate(-90)" text-anchor="middle" class="ttl">Growth rate</text>
<text transform="translate(1015.8 1132.65) rotate(-90)" text-anchor="middle" class="ttl">W/S ratio</text>
</svg></body></html>
